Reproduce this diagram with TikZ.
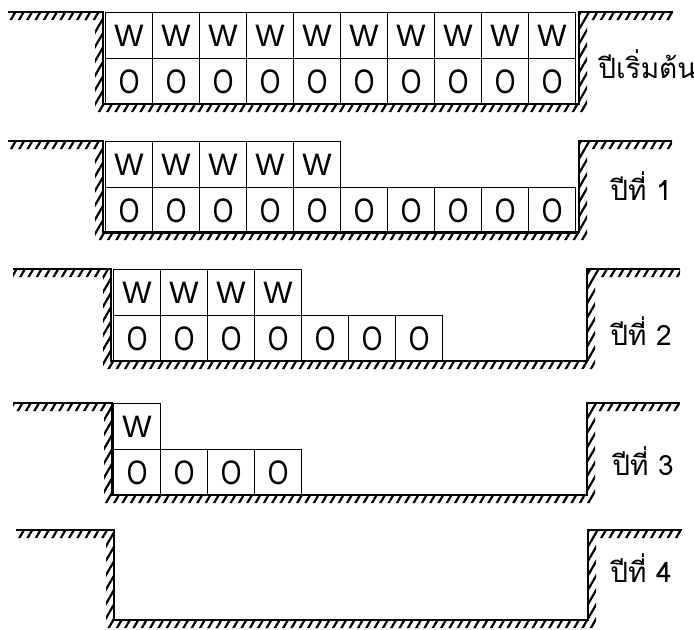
\documentclass[tikz,border=0pt]{standalone}
\usepackage{fontspec}
\usepackage{graphicx}
\setmainfont{Liberation Sans}
\newfontfamily\thaifont[Script=Thai]{Loma}
\usetikzlibrary{patterns.meta}

\begin{document}
\begin{tikzpicture}[x=0.5pt, y=-0.5pt,
  wall/.style={line width=0.8pt},
  soil/.style={pattern={Lines[angle=60, distance=3.6pt, line width=1.1pt]}},
  cell/.style={draw, line width=0.6pt, anchor=north west, inner sep=0pt,
    minimum width=23.5pt, minimum height=23pt},
  water/.style={cell, font=\fontsize{15.5}{15.5}\selectfont},
  oil/.style={cell, font=\fontsize{17}{17}\selectfont},
  year/.style={anchor=base west, inner sep=0pt, font=\thaifont\fontsize{14}{16}\selectfont}]

% frame of the whole picture (pixel units)
\useasboundingbox (0,0) rectangle (694,629);

% the five pits: top / left end / left wall / bottom / right wall / right end
\foreach \top/\lx/\lw/\bot/\rw/\rx in {12/8/103/104/579/673, 141/8/103/232/579/672,
    269/13/111/361/587/680, 403/13/112/495/587/680, 530/16/114/620/588/682}{
  % soil hatching outside the pit
  \fill[soil] (\lx,\top) -- (\lw,\top) -- (\lw,\bot) -- (\rw,\bot) -- (\rw,\top) -- (\rx,\top)
    -- (\rx,\top+8) -- (\rw+8,\top+8) -- (\rw+8,\bot+8) -- (\lw-8,\bot+8) -- (\lw-8,\top+8)
    -- (\lx,\top+8) -- cycle;
  % ground line and pit walls
  \draw[wall] (\lx,\top) -- (\lw,\top) -- (\lw,\bot) -- (\rw,\bot) -- (\rw,\top) -- (\rx,\top);
}

% start: 10 W over 10 O
\foreach \k in {0,...,9}{
  \node[water] (w0-\k) at (105+47*\k,12) {W};
  \node[oil] (o0-\k) at (105+47*\k,58) {\scalebox{0.78}[1]{O}};
}
\node[year] (y0) at (598,78) {ปีเริ่มต้น};

% year 1: 5 W over 10 O
\foreach \k in {0,...,4}
  \node[water] (w1-\k) at (105+47*\k,141) {W};
\foreach \k in {0,...,9}
  \node[oil] (o1-\k) at (105+47*\k,187) {\scalebox{0.78}[1]{O}};
\node[year] (y1) at (610,200) {ปีที่ 1};

% year 2: 4 W over 7 O
\foreach \k in {0,...,3}
  \node[water] (w2-\k) at (113+47*\k,269) {W};
\foreach \k in {0,...,6}
  \node[oil] (o2-\k) at (113+47*\k,315) {\scalebox{0.78}[1]{O}};
\node[year] (y2) at (610,345) {ปีที่ 2};

% year 3: 1 W over 4 O
\node[water] (w3-0) at (113,403) {W};
\foreach \k in {0,...,3}
  \node[oil] (o3-\k) at (113+47*\k,449) {\scalebox{0.78}[1]{O}};
\node[year] (y3) at (612,475) {ปีที่ 3};

% year 4: empty pit
\node[year] (y4) at (610,582) {ปีที่ 4};

\end{tikzpicture}
\end{document}
